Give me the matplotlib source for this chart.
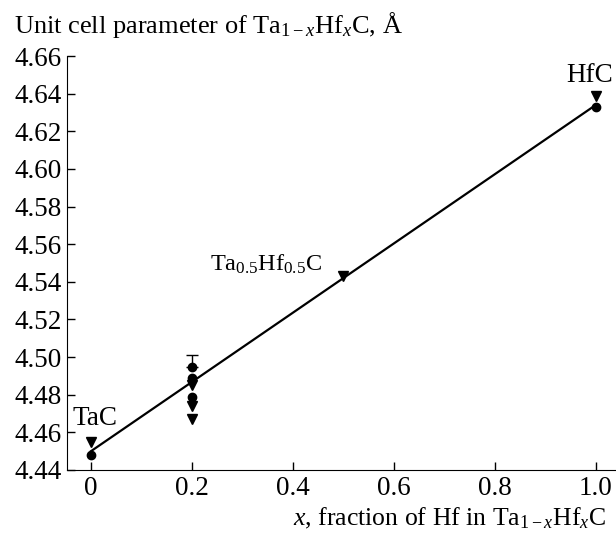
import numpy as np
import matplotlib
matplotlib.use("Agg")
import matplotlib.pyplot as plt

plt.rcParams['font.family'] = ['Liberation Serif', 'DejaVu Serif']
plt.rcParams['mathtext.fontset'] = 'custom'
plt.rcParams['mathtext.rm'] = 'Liberation Serif'
plt.rcParams['mathtext.it'] = 'Liberation Serif:italic'

# circles (measured)
circ_x = [0.0, 0.2, 0.2, 0.2, 1.0]
circ_y = [4.448, 4.495, 4.489, 4.479, 4.633]

# triangles (reference / calculated)
tri_x = [0.0, 0.2, 0.2, 0.2, 0.5, 1.0]
tri_y = [4.455, 4.485, 4.474, 4.467, 4.543, 4.639]

# error bar on top point at x=0.2
err_x = [0.2]
err_y = [4.495]
err_up = [0.006]

# linear line TaC -> HfC
fit_x = [0.0, 1.0]
fit_y = [4.450, 4.634]

yticks = np.round(np.arange(4.44, 4.661, 0.02), 2)
xticks = [0, 0.2, 0.4, 0.6, 0.8, 1.0]
xticklabels = ['0', '0.2', '0.4', '0.6', '0.8', '1.0']

fs = 19.5

fig = plt.figure(figsize=(6.16, 5.33), dpi=100)
ax = fig.add_axes([0.1088, 0.1182, 0.8912, 0.7767])

ax.plot(fit_x, fit_y, color='black', lw=1.6, zorder=2)
ax.errorbar(err_x, err_y, yerr=[[0], err_up], fmt='none', ecolor='black',
            capsize=4, elinewidth=1, capthick=1, zorder=3)
ax.plot(circ_x, circ_y, 'o', color='black', markersize=6, zorder=4)
ax.plot(tri_x, tri_y, 'v', color='black', markersize=7.5, zorder=4)

ax.text(0.008, 4.464, 'TaC', fontsize=fs, ha='center', va='baseline')
ax.text(0.457, 4.546, r'Ta$_{0.5}$Hf$_{0.5}$C', fontsize=17.5, ha='right', va='baseline')
ax.text(0.988, 4.6464, 'HfC', fontsize=fs, ha='center', va='baseline')

ax.set_xlim(-0.0475, 1.04)
ax.set_ylim(4.44, 4.66)
ax.set_xticks(xticks)
ax.set_xticklabels(xticklabels)
ax.set_yticks(yticks)
ax.set_yticklabels(['%.2f' % v for v in yticks])
ax.tick_params(direction='in', length=6, width=1, labelsize=fs, pad=4)
ax.spines['top'].set_visible(False)
ax.spines['right'].set_visible(False)

fig.text(0.022, 0.938, r'Unit cell parameter of Ta$_{1-x}$Hf$_x$C, Å', fontsize=19,
         ha='left', va='baseline')
fig.text(0.984, 0.014, r'$x$, fraction of Hf in Ta$_{1-x}$Hf$_x$C', fontsize=18.5,
         ha='right', va='baseline')

fig.savefig('out.png', dpi=100)
